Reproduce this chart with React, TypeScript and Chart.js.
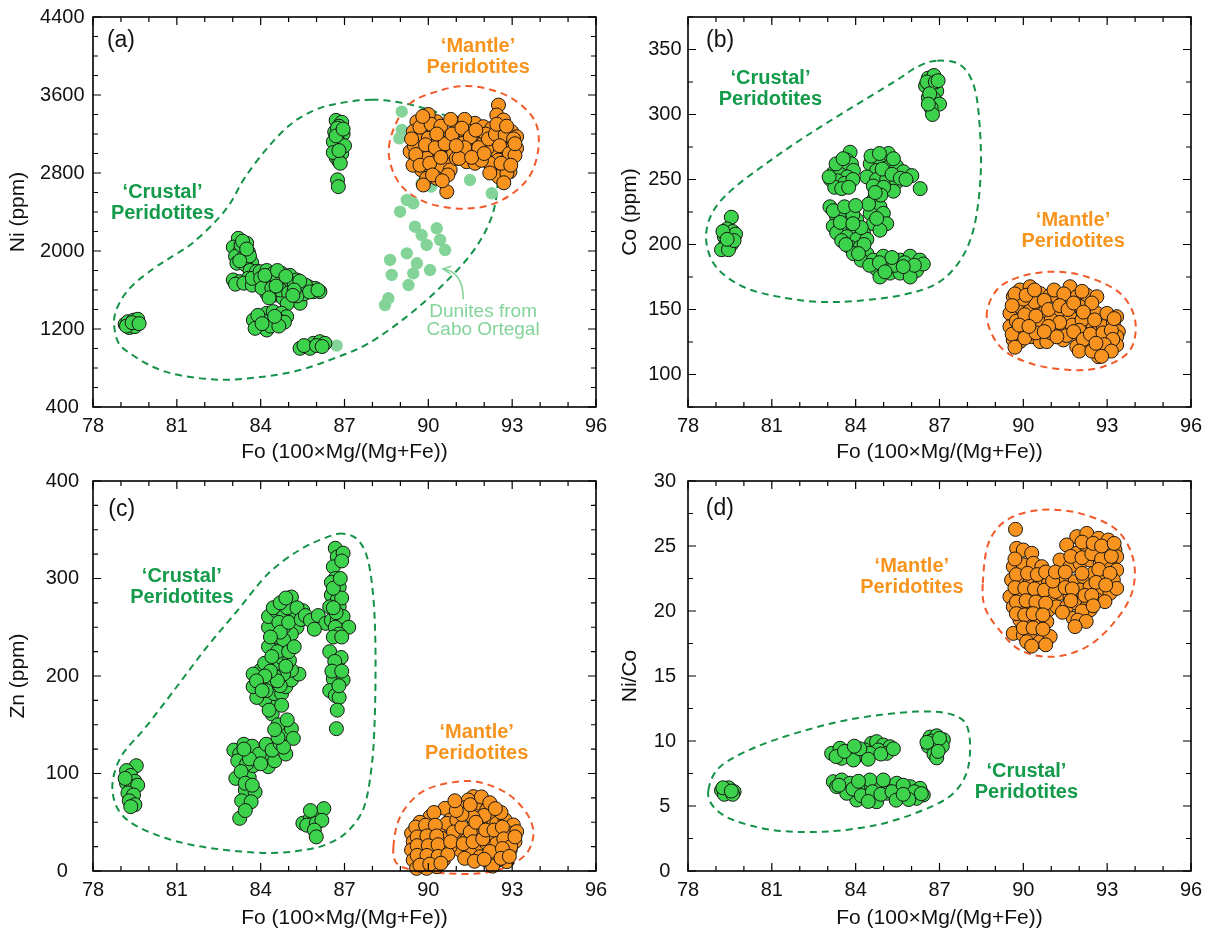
import React, { useEffect, useRef } from "react";
import { Chart, registerables } from "chart.js";

Chart.register(...registerables);

type Pt = [number, number];

const FONT = "'Liberation Sans', Arial, Helvetica, sans-serif";

// ---------- tick labels ----------
const foTicks = [78, 81, 84, 87, 90, 93, 96];
const niTicks = [400, 1200, 2000, 2800, 3600, 4400];
const coTicks = [100, 150, 200, 250, 300, 350];
const znTicks = [0, 100, 200, 300, 400];
const niCoTicks = [0, 5, 10, 15, 20, 25, 30];

// ---------- colours ----------
const GREEN = "#3dd24b";
const ORANGE = "#f7931e";
const PALE = "#84d49a";
const EDGE = "#161616";
const CRUSTAL_TXT = "#139a4a";
const CRUSTAL_LINE = "#159249";
const MANTLE_TXT = "#f7941d";
const MANTLE_LINE = "#f15a29";

// ---------- (a) Fo vs Ni ----------
const aCrustal: Pt[] = [
  [79.15,1250],[79.25,1275],[79.35,1240],[79.45,1290],[79.55,1265],[79.3,1215],[79.5,1225],[79.6,1300],[79.2,1230],[79.4,1265],[79.65,1255],
  [83.2,2130],[83.5,2080],[83.02,2040],[83.26,2000],[83.56,1990],[83.1,1945],[83.38,1930],[83.68,1880],[83.15,1875],[83.45,1860],[83.6,1950],[83.3,2060],[83.62,1800],[83.85,1790],
  [83.35,2100],[83.25,1900],[83.5,2020],
  [83.02,1703],[83.26,1685],[83.56,1720],[83.8,1685],[83.1,1660],[83.4,1670],[83.7,1650],[83.7,1720],
  [83.98,1788],[84.22,1800],[84.45,1771],[84.75,1771],[85.05,1750],[85.29,1703],[84.22,1685],[84.51,1669],[84.81,1651],[85.11,1634],[85.41,1617],[85.71,1634],[85.95,1617],[86.12,1583],[84.22,1566],[84.51,1549],[84.81,1515],[85.11,1498],[85.41,1464],[85.89,1583],[84.0,1720],[84.35,1730],[84.6,1700],[84.95,1690],[85.2,1660],[85.55,1560],[84.7,1600],[85.0,1570],[85.3,1540],[84.05,1620],[84.4,1620],[85.6,1650],
  [84.15,1750],[84.6,1800],[84.9,1740],[85.4,1690],[85.75,1580],[84.3,1520],[85.2,1600],[84.55,1640],[86.05,1600],[84.95,1460],[85.15,1545],
  [83.74,1292],[83.98,1326],[84.22,1361],[84.45,1378],[84.75,1361],[84.93,1326],[83.98,1224],[84.22,1190],[84.45,1259],[83.8,1207],[84.1,1280],[84.6,1300],[84.35,1230],[84.85,1270],
  [83.9,1340],[84.05,1255],[84.65,1230],[84.5,1330],
  [85.41,1002],[85.65,1019],[85.89,1053],[86.12,1070],[86.3,1053],[85.77,1002],[85.55,1030],[86.0,1030],[86.2,1020],
  [86.7,3340],[86.9,3320],[86.8,3280],[86.65,3220],[86.95,3200],[86.7,3150],[86.85,3100],[86.75,3050],[86.9,3000],[86.7,2960],[86.8,2920],[86.75,2730],[86.78,2660],[86.6,3120],[87.0,3080],[86.75,3260],[86.6,3010],[86.85,2900],
  [86.7,3180],[86.8,3030],[86.95,3250],
];
const aMantle: Pt[] = [
  [89.59,3326],[89.94,3344],[90.3,3326],[89.46,3224],[89.82,3241],[90.18,3258],[90.54,3207],[89.64,3139],[90.0,3156],[90.36,3139],[89.35,3019],[89.7,3036],[90.06,3019],[90.42,3053],[90.72,3087],[89.59,2933],[89.94,2951],[90.3,2916],[90.66,2933],[89.76,2831],[90.12,2831],[90.48,2848],[90.78,2831],[89.94,2745],[90.3,2745],[89.82,2677],[90.66,2608],
  [91.02,3310],[91.37,3326],[91.67,3310],[91.97,3275],[91.14,3207],[91.49,3224],[91.85,3190],[90.9,3139],[91.25,3105],[91.61,3121],[91.97,3105],[91.14,3019],[91.49,3019],[91.79,2985],[91.37,2916],[91.67,2900],
  [92.51,3497],[92.45,3395],[92.69,3344],[92.27,3258],[92.63,3241],[92.98,3224],[93.16,3172],[92.33,3139],[92.69,3105],[93.04,3087],[92.39,3036],[92.81,3036],[93.16,3053],[92.51,2933],[92.87,2951],[92.33,2831],[92.69,2848],[92.92,2813],[92.51,2762],[92.81,2797],
  [90.9,3000],[91.0,2950],[92.1,3050],[92.05,3200],[89.5,3080],[89.45,2880],[90.0,3400],[91.3,3350],[92.2,2900],[90.7,2780],[91.9,2930],
  [89.4,3150],[89.7,3270],[90.1,3300],[90.45,3280],[89.55,2990],[89.9,3090],[90.25,3060],[90.6,3100],[90.85,3200],[89.7,2880],[90.05,2900],[90.45,2960],[90.15,2780],[90.5,2720],[91.2,3260],[91.5,3170],[91.8,3060],[91.3,3060],[91.1,2950],[91.55,2960],[92.0,3000],[92.15,3150],[92.4,3200],[92.75,3190],[93.05,3150],[92.55,3080],[92.9,3000],[93.1,2980],[92.6,2900],[92.95,2880],[92.2,2800],[92.7,2700],[93.1,3100],[92.45,3300],[92.8,3280],[91.7,3240],[90.8,3350],[89.8,3380],[91.0,3080],[90.3,3200],
];
const aDunites: Pt[] = [
  [89.05,3429],[89.05,3241],[88.96,3156],[91.49,2728],[92.27,2592],[89.23,2523],[89.46,2489],[88.99,2403],[89.52,2249],[89.76,2164],[90.3,2233],[90.42,2113],[89.94,2062],[90.6,2010],[89.23,1976],[88.63,1908],[89.59,1874],[90.06,1805],[88.69,1754],[89.46,1771],[89.29,1651],[88.57,1515],[88.45,1446],[89.76,2694],[90.1,2660],[86.72,1030],
];
const aCrustalOutline: Pt[] = [
  [87.97,3552],[86.74,3511],[85.92,3443],[85.1,3306],[84.27,3067],[83.45,2759],[82.9,2485],[82.36,2297],[81.53,2075],[80.71,1921],[80.16,1819],[79.48,1665],[79.07,1528],[78.79,1357],[78.77,1203],[78.93,1049],[79.34,947],[80.16,810],[81.12,725],[82.56,680],[84.0,707],[85.37,776],[86.6,896],[87.84,1049],[89.21,1323],[90.44,1631],[91.54,1973],[92.22,2314],[92.47,2656],[92.36,2998],[91.54,3272],[90.44,3408],[89.21,3511],
];
const aMantleOutline: Pt[] = [
  [88.59,3067],[89.21,3477],[90.44,3648],[91.6,3689],[92.91,3579],[93.8,3340],[93.93,3032],[93.52,2725],[92.49,2502],[91.26,2434],[89.89,2502],[88.93,2708],
];

// ---------- (b) Fo vs Co ----------
const bCrustal: Pt[] = [
  [79.55,221],[79.4,212],[79.6,210],[79.3,206],[79.5,205],[79.7,208],[79.35,200],[79.55,200],[79.2,196],[79.45,196],[79.65,203],[79.25,210],[79.4,204],
  [83.8,271],[83.68,265],[83.85,262],[83.44,260],[83.6,258],[83.92,257],[83.2,255],[83.44,254],[83.7,252],[83.1,250],[83.35,249],[83.6,247],[83.25,244],[83.5,243],[83.05,252],[83.9,250],
  [83.3,262],[83.55,266],[83.75,244],
  [84.52,262],[84.87,265],[85.17,270],[84.75,257],[85.11,259],[85.47,260],[85.71,256],[84.4,252],[84.75,250],[85.11,250],[85.47,248],[86.01,253],[86.31,243],[84.63,245],[85.35,241],[84.95,258],[85.3,254],[84.55,268],[85.0,244],[85.6,251],
  [84.85,270],[85.35,266],[85.8,250],
  [84.63,234],[84.87,229],[84.52,224],[84.99,224],[85.11,216],[84.63,216],[84.87,211],[84.46,231],[84.75,220],[84.9,238],[84.7,240],
  [83.08,229],[83.32,221],[83.68,219],[84.04,219],[83.2,214],[83.56,214],[83.92,211],[84.28,209],[83.32,209],[83.68,206],[84.04,204],[84.4,204],[83.8,198],[84.16,198],[83.92,193],[84.4,193],[83.45,225],[83.9,223],[84.2,213],[83.5,203],[84.2,188],
  [83.2,226],[83.6,229],[84.0,230],[83.45,217],[83.9,216],[84.3,200],[83.65,200],[84.1,193],
  [84.63,188],[84.99,191],[84.75,181],[85.11,183],[84.87,175],[85.23,178],[85.59,188],[85.95,191],[86.3,188],[85.83,182],[86.18,180],[85.59,178],[85.95,175],[86.42,185],[84.5,184],[85.4,184],
  [84.85,186],[85.3,190],[85.75,186],[86.1,184],[85.05,179],[85.7,183],
  [86.6,328],[86.8,330],[86.5,322],[86.7,320],[86.9,318],[86.6,313],[86.8,312],[87.0,308],[86.7,305],[86.75,300],[86.55,325],[86.85,325],[86.65,316],[86.6,308],[86.95,326],
];
const bMantle: Pt[] = [
  [89.64,159.8],[89.88,165],[90.24,167.5],[90.6,162.3],[90.96,161],[89.52,147],[89.88,152.2],[90.24,149.6],[90.6,154.7],[90.78,148.3],[89.52,136.8],[89.88,134.3],[90.3,133],[90.6,139.4],[89.64,126.6],[89.88,125.3],[90.3,129.1],[90.6,125.3],[90.84,125.3],
  [91.19,159.8],[91.67,167.5],[91.91,159.8],[92.27,161],[92.63,159.8],[91.31,147],[91.67,144.5],[92.03,152.2],[92.39,147],[91.19,136.8],[91.55,134.3],[91.91,129.1],[92.27,136.8],[91.43,126.6],[91.91,121.4],[92.27,122.7],
  [92.63,147],[92.99,147],[93.34,144.5],[92.51,136.8],[92.87,136.8],[93.22,139.4],[93.4,133],[92.63,129.1],[92.99,126.6],[93.34,129.1],[92.75,118.9],[93.05,121.4],[93.34,122.7],[92.69,113.7],
  [90.1,142],[90.4,156],[91.0,142],[91.4,155],[91.75,138],[92.1,142],[90.0,158],[91.0,132],[92.0,134],
  [89.7,162],[89.6,153],[89.75,141],[89.6,131],[89.7,121],[90.05,128],[90.45,132],[90.1,161],[90.4,165],[90.75,157],[90.9,150],[91.1,165],[91.45,162],[91.3,153],[91.6,150],[91.8,155],[92.1,164],[92.45,155],[92.15,148],[91.3,140],[91.55,130],[91.8,133],[92.15,127],[92.4,131],[92.0,118],[92.45,118],[92.55,142],[92.85,132],[93.15,134],[93.2,127],[92.9,123],[92.6,124],[93.15,118],[92.8,114],[93.25,143],[90.05,146],[90.45,145],[90.9,137],[91.2,129],[89.85,138],[90.2,137],[90.75,133],
];
const bCrustalOutline: Pt[] = [
  [86.92,341.4],[87.75,338.1],[88.24,321.4],[88.44,290.6],[88.47,252.2],[88.24,213.7],[87.75,188.1],[86.92,170.2],[85.67,161.2],[84.0,156.5],[82.61,156],[81.22,159.9],[79.97,167.5],[79.0,182.9],[78.65,203.5],[78.86,224],[79.56,241.9],[80.81,262.5],[82.19,282.9],[83.72,303.5],[85.39,325.3],[86.22,336.8],
];
const bMantleOutline: Pt[] = [
  [88.69,144.5],[89.05,165],[89.88,175.2],[91.07,179.1],[92.27,175.2],[93.46,162.5],[94.0,141.9],[93.82,118.8],[92.86,106],[91.67,103.5],[90.24,108.6],[89.17,121.4],
];

// ---------- (c) Fo vs Zn ----------
const cCrustal: Pt[] = [
  [79.55,108],[79.2,103],[79.35,98],[79.5,92],[79.2,90],[79.4,86],[79.6,88],[79.25,80],[79.45,78],[79.3,72],[79.5,68],[79.35,66],[79.15,95],
  [83.04,124],[83.25,120],[83.59,122],[83.86,120],[84.14,117],[83.11,95],[83.59,96],[83.45,83],[83.8,81],[83.32,72],[83.66,71],[83.25,54],[83.45,62],[83.18,113],[83.73,108],[84.27,107],[83.4,130],[83.7,128],[83.5,110],[83.3,102],
  [83.95,120],[84.2,130],[83.6,115],[84.0,110],[83.45,90],[83.7,88],[83.4,125],[84.5,113],[84.9,120],
  [84.41,124],[84.69,131],[84.82,141],[85.1,146],[85.17,136],[84.82,127],[84.62,137],[84.41,161],[84.55,172],[84.14,175],[83.86,178],[83.73,189],[84.0,196],[84.28,189],[84.48,182],[84.75,182],[84.9,189],[85.1,196],[85.37,202],[85.1,206],[84.82,202],[84.69,213],[84.75,219],[84.9,230],[84.55,230],[84.48,240],[84.28,250],[84.28,261],[84.55,267],[84.82,261],[85.1,274],[85.1,281],[85.23,261],[85.51,267],[85.3,250],[85.1,243],[84.82,250],[84.82,237],[85.03,216],[84.0,206],[83.73,202],[84.14,213],[84.28,230],[84.62,150],[84.5,200],[84.65,255],[84.95,270],[84.7,190],
  [84.5,145],[84.95,155],[84.3,165],[84.75,170],[84.2,185],[84.6,195],[84.35,205],[84.9,210],[84.6,225],[85.0,225],[84.4,220],[85.2,230],[84.7,245],[84.35,240],[85.0,255],[84.45,270],[84.7,275],[84.9,280],[85.3,270],[85.45,258],[85.6,262],[84.15,200],[83.85,195],[84.05,185],
  [85.78,257],[86.06,262],[86.33,254],[85.92,248],
  [86.67,331],[86.74,322],[86.95,326],[86.6,312],[86.67,300],[86.81,291],[86.53,296],[86.53,283],[86.74,278],[86.47,271],[86.81,271],[86.53,257],[86.74,257],[86.95,261],[87.15,250],[86.67,250],[86.81,243],[86.47,225],[86.88,219],[86.74,208],[86.6,197],[86.95,196],[86.47,185],[86.67,180],[86.81,178],[86.74,165],[86.71,146],[86.9,318],[86.9,280],[86.7,265],
  [86.6,290],[86.85,300],[86.6,240],[86.9,240],[86.65,215],[86.8,190],[86.55,205],[86.9,205],[86.6,270],
  [85.51,49],[85.78,54],[86.06,57],[86.26,64],[85.65,47],[85.99,49],[86.19,52],[85.92,42],[85.99,35],[85.78,62],
];
const cMantle: Pt[] = [
  [89.4,38.7],[89.7,40.4],[90.06,42.1],[90.36,40.4],[89.46,30.1],[89.82,31.8],[90.18,30.1],[90.48,33.5],[89.4,21.6],[89.76,21.6],[90.12,19.9],[90.48,21.6],[89.46,11.3],[89.82,11.3],[90.18,9.6],[90.54,11.3],[89.58,2.7],[89.94,2.7],[90.3,4.4],[90.6,64.3],[90.06,55.7],[90.78,52.3],
  [90.66,48.9],[91.02,52.3],[91.37,59.2],[91.73,66],[91.61,76.3],[91.85,69.4],[92.09,62.6],[91.26,42.1],[91.61,45.5],[91.97,48.9],[92.33,52.3],[91.02,35.2],[91.37,31.8],[91.73,24.9],[92.09,28.4],[91.14,21.6],[91.49,18.2],[91.85,14.7],[90.78,24.9],[91.43,72.8],[92.21,38.7],[91.85,38.7],
  [92.45,48.9],[92.75,52.3],[93.04,47.2],[92.57,38.7],[92.93,38.7],[93.16,40.4],[92.45,28.4],[92.81,28.4],[93.1,30.1],[92.57,18.2],[92.93,21.6],[92.81,9.6],[92.51,11.3],
  [90.2,60],[89.7,50],[91.3,65],[92.0,57],[92.6,60],[91.6,55],[92.2,20],[90.9,40],[92.3,5],
  [89.55,45],[89.9,47],[90.25,47],[89.6,35],[89.95,36],[90.3,36],[89.6,26],[90.0,26],[90.35,27],[89.6,16],[89.95,16],[90.35,15],[90.7,17],[89.7,6],[90.05,7],[90.45,8],[90.8,30],[91.2,45],[91.5,40],[91.7,50],[91.2,58],[91.5,68],[91.0,62],[91.25,28],[91.6,30],[91.95,33],[91.3,13],[91.65,10],[92.0,12],[92.05,42],[92.35,42],[92.65,45],[92.7,33],[92.95,25],[93.1,35],[92.65,23],[92.6,13],[92.9,15],[91.9,76],[92.2,70],[92.4,64],[90.95,72],
];
const cCrustalOutline: Pt[] = [
  [86.95,346],[86.33,341.9],[85.37,328.9],[84.27,305],[83.18,267.4],[82.08,229.8],[80.99,188.7],[79.89,147.7],[79.07,120.3],[78.73,96.4],[78.73,75.9],[79.0,58.8],[79.62,45.1],[80.85,31.5],[82.36,22.9],[84.27,18.5],[85.64,21.9],[86.47,28.7],[87.15,41.7],[87.7,65.6],[87.97,106.7],[88.08,154.5],[88.11,222.9],[88.04,277.6],[87.84,318.7],[87.49,339.2],
];
const cMantleOutline: Pt[] = [
  [88.75,24.9],[88.99,55.7],[89.7,79.7],[90.66,89.9],[91.73,91.6],[92.81,79.7],[93.52,59.2],[93.76,38.7],[93.52,18.2],[92.81,4.4],[91.85,-2.4],[90.66,-2.4],[89.46,1],[88.87,7.9],
];

// ---------- (d) Fo vs Ni/Co ----------
const dCrustal: Pt[] = [
  [79.2,6.2],[79.35,6.0],[79.5,6.3],[79.65,6.1],[79.3,5.9],[79.45,6.4],[79.6,5.9],[79.25,6.4],[79.55,6.15],
  [83.14,9.05],[83.44,9.44],[83.74,9.18],[84.04,8.92],[84.27,8.92],[84.57,9.82],[84.75,9.95],[84.99,9.69],[85.23,9.56],[84.33,9.31],[84.81,9.31],[83.5,8.67],[83.92,8.54],[84.51,9.05],[85.11,9.05],[83.3,8.8],
  [83.6,9.2],[84.15,9.4],[84.45,8.6],[84.9,9.0],[85.35,9.4],[83.95,9.6],
  [86.66,10.3],[86.9,10.4],[87.14,10.1],[86.75,9.9],[87.0,9.8],[86.6,9.6],[86.85,9.4],[87.1,9.6],[86.8,9.0],[86.9,8.7],[86.7,10.0],[86.55,9.9],[87.0,10.2],[86.95,9.2],
  [83.2,6.87],[83.5,7.0],[83.8,6.75],[84.04,6.36],[84.27,6.23],[84.57,6.49],[84.93,6.62],[85.23,6.36],[85.59,6.23],[85.95,6.49],[86.3,6.36],[86.42,5.85],[86.18,5.59],[85.83,5.72],[85.47,5.85],[85.11,5.98],[84.75,5.72],[84.39,5.72],[84.04,5.46],[83.68,5.98],[83.32,6.49],[84.51,7.0],[84.99,7.0],[85.47,6.75],[85.95,5.85],[84.75,5.33],
  [83.4,6.6],[83.9,6.3],[84.2,5.8],[84.6,6.1],[84.9,5.9],[85.3,6.1],[85.7,6.6],[86.1,6.1],[86.35,5.95],[85.45,5.45],[85.9,5.5],[84.45,5.35],[84.1,6.9],[85.7,5.9],
];
const dMantle: Pt[] = [
  [89.72,26.28],
  [89.76,24.82],[90.0,24.69],[90.3,24.44],[89.64,23.41],[90.0,23.54],[90.36,23.67],[90.66,23.41],[90.96,22.77],[89.58,22.39],[89.88,22.13],[90.24,22.26],[90.6,22.39],[90.9,22.13],[89.52,21.1],[89.88,21.36],[90.24,21.23],[90.6,21.1],[90.96,20.85],[89.64,20.33],[89.94,20.08],[90.24,20.33],[90.6,20.2],[90.9,20.08],[91.2,20.33],[89.88,19.31],[90.18,19.18],[90.48,19.44],[90.84,19.18],[89.64,18.28],[90.0,18.15],[90.24,18.28],[90.6,17.64],[90.96,18.03],[90.12,17.64],
  [91.91,25.72],[92.27,25.97],[92.69,25.59],[93.04,25.46],[93.28,24.69],[91.55,25.08],[91.91,24.44],[92.27,24.95],[92.63,24.69],[92.98,24.44],[93.34,24.18],[91.31,23.92],[91.67,23.41],[92.03,23.67],[92.39,23.92],[92.75,23.67],[93.1,23.67],[93.34,23.15],[91.43,22.39],[91.85,22.26],[92.15,22.64],[92.51,22.9],[92.87,22.64],[93.22,22.39],[91.31,21.36],[91.67,21.1],[92.03,21.62],[92.39,21.87],[92.75,21.62],[93.1,21.36],[93.34,21.74],[91.55,20.33],[91.91,20.59],[92.27,20.33],[92.63,20.85],[92.92,20.72],[91.79,19.44],[92.15,19.69],[92.39,20.08],
  [89.7,24.0],[89.75,22.8],[90.15,22.9],[90.5,22.8],[90.8,23.0],[89.7,21.8],[90.05,21.75],[90.4,21.7],[90.75,21.6],[89.75,20.7],[90.1,20.8],[90.45,20.7],[90.8,20.6],[89.75,19.8],[90.05,19.7],[90.35,19.8],[90.7,19.7],[90.0,18.7],[90.35,18.7],[90.7,18.6],[90.3,17.3],[90.8,17.4],
  [91.15,21.5],[91.05,22.3],[91.15,23.0],[91.5,23.0],[91.5,21.8],[91.7,24.2],[92.1,24.1],[92.45,24.4],[92.8,24.0],[93.15,24.2],[92.1,22.9],[92.7,23.2],[93.1,22.9],[91.75,21.7],[92.2,21.2],[92.6,22.2],[92.95,22.0],[92.45,21.2],[91.7,20.8],[92.1,20.0],[92.5,20.4],[91.4,19.9],[91.95,19.3],[92.25,19.2],[92.1,25.3],[92.5,25.2],[92.8,25.0],[93.25,25.2],[91.85,18.8],
];
const dCrustalOutline: Pt[] = [
  [78.73,6.23],[79.15,8.02],[80.46,9.56],[82.25,10.85],[84.04,11.75],[86.18,12.26],[87.5,12.0],[88.03,10.85],[88.03,8.02],[87.5,5.98],[86.42,4.69],[84.75,3.54],[82.84,3.02],[81.05,3.15],[79.62,3.92],[78.91,4.95],
];
const dMantleOutline: Pt[] = [
  [88.55,22.13],[88.75,25.2],[89.41,27.0],[90.6,27.77],[92.03,27.51],[93.34,26.23],[93.94,23.92],[93.88,21.36],[93.22,19.05],[92.27,17.25],[91.07,16.48],[89.88,17.0],[89.05,18.79],[88.62,20.33],
];

// ---------- types ----------
interface Series { data: Pt[]; fill: string; edge: string; r: number; bw: number; }
interface Note { lines: string[]; at: Pt; color: string; size: number; bold?: boolean; lh: number; }
interface Outline { pts: Pt[]; color: string; }
interface Arrow { from: Pt; ctrl: Pt; to: Pt; color: string; }
interface Spec {
  left: number; top: number; w: number; h: number;
  padTop: number; padRight: number; yAxisW: number; xAxisH: number;
  yTickPad: number; yTitlePad: number; yTitle: string;
  yMin: number; yMax: number; yMinor: number; yTicks: number[];
  series: Series[]; outlines: Outline[]; notes: Note[]; arrow?: Arrow;
}

const crustal = (lines: string[], at: Pt): Note => ({ lines, at, color: CRUSTAL_TXT, size: 20, bold: true, lh: 21 });
const mantle = (lines: string[], at: Pt): Note => ({ lines, at, color: MANTLE_TXT, size: 20, bold: true, lh: 21 });
const tag = (t: string, at: Pt): Note => ({ lines: [t], at, color: "#111", size: 23, lh: 24 });
const CR = ["\u2018Crustal\u2019", "Peridotites"];
const MA = ["\u2018Mantle\u2019", "Peridotites"];
const green = (data: Pt[]): Series => ({ data, fill: GREEN, edge: EDGE, r: 7, bw: 1 });
const orange = (data: Pt[]): Series => ({ data, fill: ORANGE, edge: EDGE, r: 7, bw: 1 });

const specs: Spec[] = [
  {
    left: 0, top: 0, w: 607, h: 465, padTop: 17, padRight: 11, yAxisW: 93, xAxisH: 58,
    yTickPad: 8.5, yTitlePad: 6, yTitle: "Ni (ppm)", yMin: 400, yMax: 4400, yMinor: 200, yTicks: niTicks,
    series: [orange(aMantle), green(aCrustal), { data: aDunites, fill: PALE, edge: PALE, r: 6.2, bw: 0 }],
    outlines: [{ pts: aCrustalOutline, color: CRUSTAL_LINE }, { pts: aMantleOutline, color: MANTLE_LINE }],
    notes: [tag("(a)", [79.0, 4154]), crustal(CR, [80.49, 2492]), mantle(MA, [91.78, 3985]),
      { lines: ["Dunites from", "Cabo Ortegal"], at: [91.96, 1287], color: PALE, size: 19, lh: 18 }],
    arrow: { from: [91.25, 1505], ctrl: [91.25, 1788], to: [90.52, 1815], color: PALE },
  },
  {
    left: 607, top: 0, w: 608, h: 465, padTop: 17, padRight: 24, yAxisW: 81, xAxisH: 58,
    yTickPad: 6.5, yTitlePad: 11, yTitle: "Co (ppm)", yMin: 75, yMax: 375, yMinor: 25, yTicks: coTicks,
    series: [orange(bMantle), green(bCrustal)],
    outlines: [{ pts: bCrustalOutline, color: CRUSTAL_LINE }, { pts: bMantleOutline, color: MANTLE_LINE }],
    notes: [tag("(b)", [79.15, 356.5]), crustal(CR, [80.95, 320]), mantle(MA, [91.78, 210.4])],
  },
  {
    left: 0, top: 465, w: 607, h: 466, padTop: 16, padRight: 11, yAxisW: 93, xAxisH: 60,
    yTickPad: 14, yTitlePad: 6, yTitle: "Zn (ppm)", yMin: 0, yMax: 400, yMinor: 25, yTicks: znTicks,
    series: [orange(cMantle), green(cCrustal)],
    outlines: [{ pts: cCrustalOutline, color: CRUSTAL_LINE }, { pts: cMantleOutline, color: MANTLE_LINE }],
    notes: [tag("(c)", [79.03, 371]), crustal(CR, [81.18, 290.8]), mantle(MA, [91.73, 131])],
  },
  {
    left: 607, top: 465, w: 608, h: 466, padTop: 16, padRight: 24, yAxisW: 81, xAxisH: 60,
    yTickPad: 12, yTitlePad: 11, yTitle: "Ni/Co", yMin: 0, yMax: 30, yMinor: 2.5, yTicks: niCoTicks,
    series: [orange(dMantle), green(dCrustal)],
    outlines: [{ pts: dCrustalOutline, color: CRUSTAL_LINE }, { pts: dMantleOutline, color: MANTLE_LINE }],
    notes: [tag("(d)", [79.14, 27.9]), mantle(MA, [86.01, 22.6]), crustal(CR, [90.11, 6.88])],
  },
];

function spline(ctx: CanvasRenderingContext2D, pts: { x: number; y: number }[]) {
  const n = pts.length;
  ctx.beginPath();
  ctx.moveTo(pts[0].x, pts[0].y);
  for (let i = 0; i < n; i++) {
    const p0 = pts[(i - 1 + n) % n], p1 = pts[i], p2 = pts[(i + 1) % n], p3 = pts[(i + 2) % n];
    ctx.bezierCurveTo(
      p1.x + (p2.x - p0.x) / 6, p1.y + (p2.y - p0.y) / 6,
      p2.x - (p3.x - p1.x) / 6, p2.y - (p3.y - p1.y) / 6,
      p2.x, p2.y
    );
  }
  ctx.closePath();
  ctx.stroke();
}

function Panel({ s }: { s: Spec }) {
  const ref = useRef<HTMLCanvasElement>(null);
  useEffect(() => {
    const canvas = ref.current!;
    const px = (chart: any, p: Pt) => ({ x: chart.scales.x.getPixelForValue(p[0]), y: chart.scales.y.getPixelForValue(p[1]) });
    const decor = {
      id: "decor",
      beforeDatasetsDraw(chart: any) {
        const ctx = chart.ctx as CanvasRenderingContext2D;
        ctx.save();
        ctx.lineWidth = 2;
        ctx.setLineDash([7, 5]);
        for (const o of s.outlines) {
          ctx.strokeStyle = o.color;
          spline(ctx, o.pts.map((p) => px(chart, p)));
        }
        ctx.restore();
      },
      afterDatasetsDraw(chart: any) {
        const ctx = chart.ctx as CanvasRenderingContext2D;
        const { left, right, top, bottom } = chart.chartArea;
        ctx.save();
        ctx.setLineDash([]);
        ctx.strokeStyle = "#000";
        ctx.lineWidth = 1.2;
        ctx.beginPath();
        for (let v = foTicks[0]; v <= foTicks[foTicks.length - 1] + 1e-9; v += 1) {
          const x = chart.scales.x.getPixelForValue(v);
          const len = foTicks.includes(v) ? 8 : 5;
          ctx.moveTo(x, bottom); ctx.lineTo(x, bottom - len);
          ctx.moveTo(x, top); ctx.lineTo(x, top + len);
        }
        for (let k = 0; ; k++) {
          const v = s.yMin + k * s.yMinor;
          if (v > s.yMax + 1e-9) break;
          const y = chart.scales.y.getPixelForValue(v);
          const len = s.yTicks.includes(v) ? 8 : 5;
          ctx.moveTo(left, y); ctx.lineTo(left + len, y);
          ctx.moveTo(right, y); ctx.lineTo(right - len, y);
        }
        ctx.stroke();
        ctx.lineWidth = 1.6;
        ctx.strokeRect(left, top, right - left, bottom - top);

        if (s.arrow) {
          const a = px(chart, s.arrow.from), c = px(chart, s.arrow.ctrl), b = px(chart, s.arrow.to);
          ctx.strokeStyle = s.arrow.color;
          ctx.lineWidth = 1.5;
          ctx.beginPath();
          ctx.moveTo(a.x, a.y);
          ctx.quadraticCurveTo(c.x, c.y, b.x, b.y);
          ctx.stroke();
          const ang = Math.atan2(b.y - c.y, b.x - c.x);
          ctx.beginPath();
          ctx.moveTo(b.x - 9 * Math.cos(ang - 0.45), b.y - 9 * Math.sin(ang - 0.45));
          ctx.lineTo(b.x, b.y);
          ctx.lineTo(b.x - 9 * Math.cos(ang + 0.45), b.y - 9 * Math.sin(ang + 0.45));
          ctx.stroke();
        }

        ctx.textAlign = "center";
        ctx.textBaseline = "middle";
        for (const n of s.notes) {
          const p = px(chart, n.at);
          ctx.fillStyle = n.color;
          ctx.font = `${n.bold ? "bold " : ""}${n.size}px ${FONT}`;
          const y0 = p.y - ((n.lines.length - 1) * n.lh) / 2;
          n.lines.forEach((t, i) => ctx.fillText(t, p.x, y0 + i * n.lh));
        }
        ctx.restore();
      },
    };

    const chart = new Chart(canvas, {
      type: "scatter",
      data: {
        datasets: s.series.map((se) => ({
          data: se.data.map(([x, y]) => ({ x, y })),
          backgroundColor: se.fill,
          borderColor: se.edge,
          borderWidth: se.bw,
          pointRadius: se.r,
          pointHoverRadius: se.r,
          clip: false as any,
        })),
      },
      options: {
        responsive: false,
        animation: false,
        events: [],
        layout: { padding: { left: 0, top: s.padTop, right: s.padRight, bottom: 0 } },
        plugins: { legend: { display: false }, tooltip: { enabled: false } },
        scales: {
          x: {
            type: "linear",
            min: foTicks[0],
            max: foTicks[foTicks.length - 1],
            afterBuildTicks: (sc: any) => { sc.ticks = foTicks.map((v) => ({ value: v })); },
            afterFit: (sc: any) => { sc.height = s.xAxisH; sc.paddingLeft = 0; sc.paddingRight = 0; },
            grid: { display: false, drawTicks: false },
            border: { display: false },
            ticks: { color: "#111", padding: 7, maxRotation: 0, autoSkip: false, callback: (v: any) => String(v), font: { family: FONT, size: 20 } },
            title: { display: true, text: "Fo (100\u00d7Mg/(Mg+Fe))", color: "#111", padding: { top: 0, bottom: 0 }, font: { family: FONT, size: 21 } },
          },
          y: {
            type: "linear",
            min: s.yMin,
            max: s.yMax,
            afterBuildTicks: (sc: any) => { sc.ticks = s.yTicks.map((v) => ({ value: v })); },
            afterFit: (sc: any) => { sc.width = s.yAxisW; sc.paddingTop = 0; sc.paddingBottom = 0; },
            grid: { display: false, drawTicks: false },
            border: { display: false },
            ticks: { color: "#111", padding: s.yTickPad, crossAlign: "center", autoSkip: false, callback: (v: any) => String(v), font: { family: FONT, size: 20 } },
            title: { display: true, text: s.yTitle, color: "#111", padding: { top: s.yTitlePad, bottom: 0 }, font: { family: FONT, size: 21 } },
          },
        },
      } as any,
      plugins: [decor],
    });
    return () => chart.destroy();
  }, [s]);
  return (
    <canvas
      ref={ref}
      width={s.w}
      height={s.h}
      style={{ position: "absolute", left: s.left, top: s.top, width: s.w, height: s.h, display: "block" }}
    />
  );
}

export default function App() {
  return (
    <div style={{ position: "absolute", left: 0, top: 0, width: 1215, height: 931, background: "#fff", overflow: "hidden" }}>
      {specs.map((s, i) => <Panel key={i} s={s} />)}
    </div>
  );
}
